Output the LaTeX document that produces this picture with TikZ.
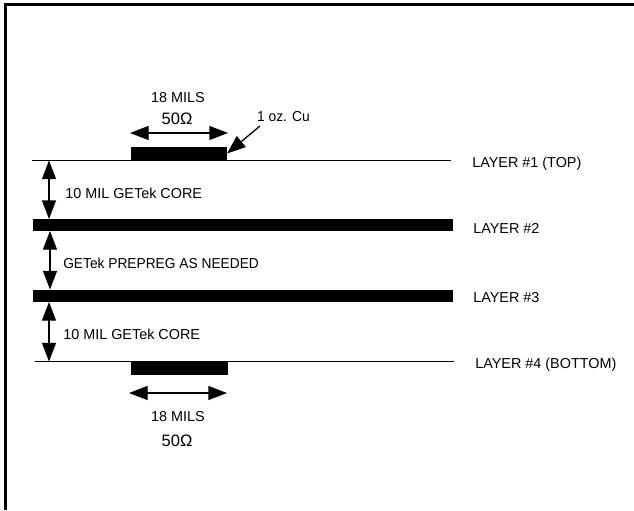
\documentclass[tikz,border=0pt]{standalone}
\usepackage{fontspec}
\setmainfont{Liberation Sans}
\usetikzlibrary{arrows.meta}

\begin{document}
\begin{tikzpicture}[x=0.75pt,y=-0.75pt,>={Triangle[length=14pt,width=10.5pt]},
                    font=\fontsize{10.8}{12}\selectfont]
   \tikzstyle{every node}=[inner sep=0pt,text=black]
   \tikzstyle{thin layer}=[line width=1pt]
   \tikzstyle{thick layer}=[fill=black]
   \tikzstyle{dim}=[<->,line width=1pt]
   \tikzstyle{ohms}=[font=\fontsize{12.4}{14}\selectfont]

   \useasboundingbox (0,0) rectangle (634,510);

   % frame, top and left only
   \coordinate (FTR) at (634,5);
   \coordinate (FTL) at (5,5);
   \coordinate (FBL) at (5,510);
   \draw[line width=2.25pt] (FTR) -- (FTL) -- (FBL);

   % layers
   \coordinate (L1a) at (32,160.5);
   \coordinate (L1b) at (451,160.5);
   \coordinate (L4a) at (35,361.5);
   \coordinate (L4b) at (454,361.5);
   \draw[thin layer] (L1a) -- (L1b);
   \draw[thin layer] (L4a) -- (L4b);
   \coordinate (L2a) at (33,219);
   \coordinate (L2b) at (452.5,231);
   \coordinate (L3a) at (33,289.5);
   \coordinate (L3b) at (452.5,302);
   \fill[thick layer] (L2a) rectangle (L2b);
   \fill[thick layer] (L3a) rectangle (L3b);

   % traces
   \coordinate (TTa) at (130.5,147);
   \coordinate (TTb) at (227,160.5);
   \coordinate (BTa) at (131,362);
   \coordinate (BTb) at (227.5,375);
   \fill[thick layer] (TTa) rectangle (TTb);
   \fill[thick layer] (BTa) rectangle (BTb);

   % labels
   \node (top18)  at (178,98)  {18 MILS};
   \node[ohms] (top50)  at (177,119) {50Ω};
   \node (cu)     at (283.5,117) {\scalebox{0.96}[1]{1 oz. Cu}};
   \node (bot18)  at (178,417) {18 MILS};
   \node[ohms] (bot50)  at (177,441) {50Ω};
   \node[anchor=west] (core1) at (65,193)  {10 MIL GETek CORE};
   \node[anchor=west] (prep)  at (63,263)  {\scalebox{0.955}[1]{GETek PREPREG AS NEEDED}};
   \node[anchor=west] (core2) at (63,334)  {10 MIL GETek CORE};
   \node[anchor=west] (lay1)  at (472,163.5) {LAYER \#1 (TOP)};
   \node[anchor=west] (lay2)  at (473,228) {LAYER \#2};
   \node[anchor=west] (lay3)  at (473,298) {LAYER \#3};
   \node[anchor=west] (lay4)  at (475,364.5) {LAYER \#4 (BOTTOM)};

   % dimension arrows
   \coordinate (A1a) at (49,160.5);
   \coordinate (A1b) at (49,219);
   \coordinate (A2a) at (50,231);
   \coordinate (A2b) at (50,289.5);
   \coordinate (A3a) at (49,302);
   \coordinate (A3b) at (49,361.5);
   \coordinate (TWa) at (130,133);
   \coordinate (TWb) at (228,133);
   \coordinate (BWa) at (129,393);
   \coordinate (BWb) at (227,393);
   \coordinate (CUa) at (260,126);
   \coordinate (CUb) at (227,153.5);
   \draw[dim] (A1a) -- (A1b);
   \draw[dim] (A2a) -- (A2b);
   \draw[dim] (A3a) -- (A3b);
   \draw[dim] (TWa) -- (TWb);
   \draw[dim] (BWa) -- (BWb);
   \draw[->,line width=1pt] (CUa) -- (CUb);
\end{tikzpicture}
\end{document}
